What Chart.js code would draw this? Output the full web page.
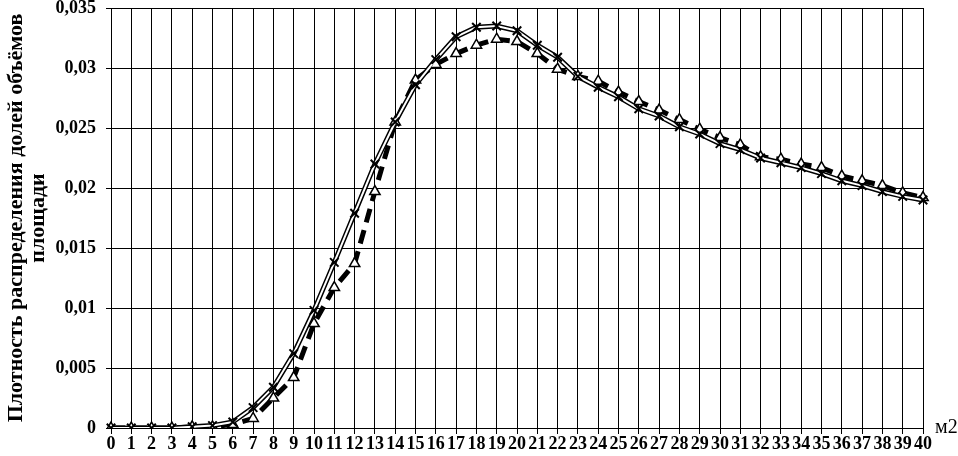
<!DOCTYPE html>
<html>
<head>
<meta charset="utf-8">
<script src="https://cdn.jsdelivr.net/npm/chart.js@4"></script>
<style>
  html, body { margin: 0; padding: 0; background: #fff; }
  #wrap { width: 958px; height: 456px; }
</style>
</head>
<body>
<div id="wrap"><canvas id="grafico" width="958" height="456"></canvas></div>
<script>
// данные с графика
const categories = ["0","1","2","3","4","5","6","7","8","9","10","11","12","13","14","15","16","17","18","19","20",
  "21","22","23","24","25","26","27","28","29","30","31","32","33","34","35","36","37","38","39","40"];

const seriesA = [0, 0, 0, 0, 0.0001, 0.0002, 0.0005, 0.0017, 0.0034, 0.0062, 0.0098, 0.0138, 0.0179, 0.022, 0.0255,
  0.0286, 0.0307, 0.0326, 0.0334, 0.0335, 0.0331, 0.0319, 0.0309, 0.0293, 0.0284, 0.0276, 0.0266, 0.026, 0.0251,
  0.0245, 0.0237, 0.0232, 0.0225, 0.0221, 0.0217, 0.0212, 0.0206, 0.0202, 0.0197, 0.0193, 0.019];

const seriesB = [0, 0, 0, 0, 0.0001, 0.0001, 0.0003, 0.0008, 0.0025, 0.0042, 0.0087, 0.0117, 0.0137, 0.0197, 0.0255,
  0.029, 0.0303, 0.0312, 0.0319, 0.0324, 0.0322, 0.0312, 0.0299, 0.0293, 0.0289, 0.028, 0.0272, 0.0265, 0.0257,
  0.0249, 0.0242, 0.0236, 0.0226, 0.0224, 0.022, 0.0217, 0.021, 0.0206, 0.0202, 0.0196, 0.0192];

const yTicks = [0, 0.005, 0.01, 0.015, 0.02, 0.025, 0.03, 0.035];
const yTitle = ["Плотность распределения долей объёмов", "площади"];
const xUnit = "м2";

const serif = "'Liberation Serif', 'Times New Roman', serif";

// подпись "м2" справа от оси
const unitLabel = {
  id: "unitLabel",
  afterDraw(chart) {
    const { ctx, chartArea } = chart;
    ctx.save();
    ctx.font = "20px " + serif;
    ctx.fillStyle = "#000";
    ctx.textAlign = "left";
    ctx.textBaseline = "bottom";
    ctx.fillText(xUnit, chartArea.right + 12, chartArea.bottom + 10);
    ctx.restore();
  }
};

new Chart(document.getElementById("grafico"), {
  type: "line",
  data: {
    labels: categories,
    datasets: [
      {
        label: "A",
        data: seriesA,
        borderColor: "#fff",
        borderWidth: 2,
        pointStyle: "crossRot",
        pointRadius: 6,
        pointBorderColor: "#000",
        pointBorderWidth: 2,
        tension: 0,
      },
      {
        label: "B",
        data: seriesB,
        borderColor: "#000",
        borderWidth: 5,
        borderDash: [14, 8],
        pointStyle: "triangle",
        pointRadius: 6,
        pointBackgroundColor: "#fff",
        pointBorderColor: "#000",
        pointBorderWidth: 1.5,
        tension: 0,
      },
      {
        label: "A-outline",
        data: seriesA,
        borderColor: "#000",
        borderWidth: 5,
        pointRadius: 0,
        tension: 0,
      },
    ],
  },
  options: {
    responsive: false,
    animation: false,
    layout: { padding: { top: 0, right: 35, left: 0, bottom: 0 } },
    plugins: {
      legend: { display: false },
      tooltip: { enabled: false },
    },
    scales: {
      x: {
        type: "category",
        offset: false,
        grid: { color: "#000", lineWidth: 1, tickLength: 6 },
        border: { color: "#000", width: 1 },
        ticks: {
          color: "#000",
          autoSkip: false,
          maxRotation: 0,
          padding: 0,
          font: { family: serif, size: 18, weight: "bold" },
        },
        afterFit(scale) { scale.height = 28; },
      },
      y: {
        min: 0,
        max: 0.035,
        afterBuildTicks(scale) { scale.ticks = yTicks.map(v => ({ value: v })); },
        grid: { color: "#000", lineWidth: 1, tickLength: 5 },
        border: { color: "#000", width: 1 },
        ticks: {
          color: "#000",
          padding: 10,
          font: { family: serif, size: 18, weight: "bold" },
          callback: v => String(Math.round(v * 1000) / 1000).replace(".", ","),
        },
        title: {
          display: true,
          text: yTitle,
          color: "#000",
          padding: { top: 5, bottom: 0 },
          font: { family: serif, size: 22, weight: "bold", lineHeight: 1.0 },
        },
        afterFit(scale) {
          scale.width = 111;
          scale.paddingTop = 6;
        },
      },
    },
  },
  plugins: [unitLabel],
});
</script>
</body>
</html>
